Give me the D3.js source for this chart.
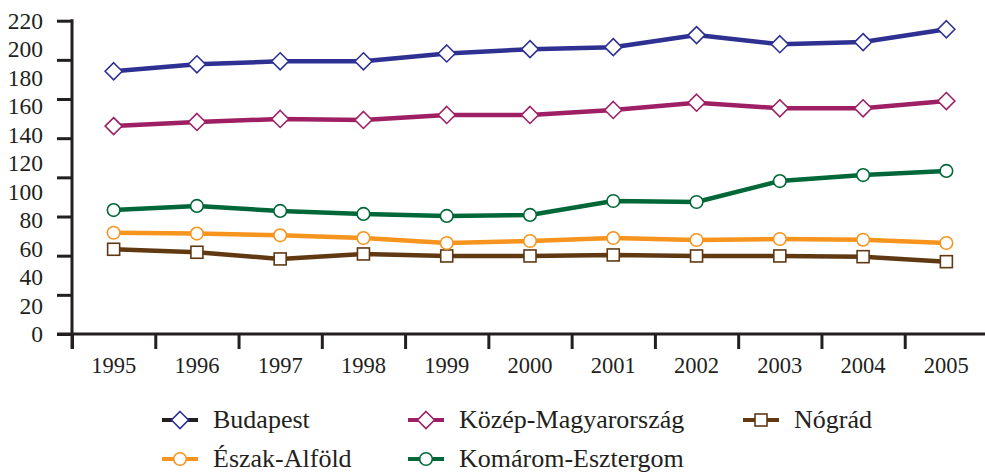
<!DOCTYPE html>
<html>
<head>
<meta charset="utf-8">
<script src="https://cdn.jsdelivr.net/npm/d3@7"></script>
<style>
  body { margin: 0; background: #fff; }
  text { font-family: "Liberation Serif", "Times New Roman", serif; fill: #231f20; }
</style>
</head>
<body>
<svg id="canvas"></svg>
<script>
const years = ["1995","1996","1997","1998","1999","2000","2001","2002","2003","2004","2005"]
const budapest = [184.5, 189.4, 191.5, 191.5, 197, 200, 201.4, 209.9, 203.5, 205, 214]
const kozep = [146, 148.9, 151, 150.3, 153.8, 153.8, 157.3, 162.4, 158.5, 158.5, 163.6]
const komarom = [87, 89.9, 86.4, 84.3, 82.9, 83.6, 93.4, 92.7, 107.4, 111.6, 114.5]
const eszak = [71.1, 70.5, 69.3, 67.4, 63.9, 65.3, 67.4, 66, 66.7, 66.2, 63.9]
const nograd = [59.5, 57.4, 52.7, 56.2, 54.8, 54.8, 55.5, 54.8, 54.8, 54.3, 50.8]
const yLabels = [0, 20, 40, 60, 80, 100, 120, 140, 160, 180, 200, 220]

const width = 985
const height = 473
const serif = '"Liberation Serif", "Times New Roman", serif'

// draw order: lower lines first
const series = [
  { name: "Nógrád", values: nograd, color: "#603913", legendLine: "#603913", marker: "square" },
  { name: "Észak-Alföld", values: eszak, color: "#f7941d", legendLine: "#f7941d", marker: "circle" },
  { name: "Komárom-Esztergom", values: komarom, color: "#006838", legendLine: "#006838", marker: "circle" },
  { name: "Közép-Magyarország", values: kozep, color: "#9e1f63", legendLine: "#9e1f63", marker: "diamond" },
  { name: "Budapest", values: budapest, color: "#2e3192", legendLine: "#231f20", marker: "diamond" }
]

let canvas = d3.select("#canvas")
  .attr("width", width)
  .attr("height", height)

let xScale = d3.scaleBand().domain(years).range([72, 988])
let xTicks = d3.scaleLinear().domain([0, 11]).range([72, 988])
let yScale = d3.scaleLinear().domain([0, 220]).range([334, 20.7])

// y axis: tick marks every 27.5, labels every 20 (as in the original)
let yTickAxis = d3.axisLeft(yScale)
  .tickValues(d3.range(0, 220.1, 27.5))
  .tickSize(15)
  .tickSizeOuter(0)
  .tickFormat("")
let gy = canvas.append("g")
  .attr("transform", "translate(72,0)")
  .call(yTickAxis)
gy.select(".domain").remove()
gy.selectAll("line").attr("stroke", "#231f20").attr("stroke-width", 3)
canvas.append("line")
  .attr("x1", 72).attr("x2", 72)
  .attr("y1", yScale(220) - 1.5).attr("y2", 349)
  .attr("stroke", "#231f20").attr("stroke-width", 3)

let yLabelAxis = d3.axisLeft(yScale)
  .tickValues(yLabels)
  .tickSize(0)
  .tickPadding(29)
let gyl = canvas.append("g")
  .attr("transform", "translate(72,0)")
  .call(yLabelAxis)
  .attr("font-family", serif)
  .attr("font-size", 23.5)
gyl.select(".domain").remove()
gyl.selectAll("text")
  .style("font-family", serif)
  .style("font-size", "23.5px")

// x axis
let xTickAxis = d3.axisBottom(xTicks)
  .tickValues(d3.range(0, 11))
  .tickSize(15)
  .tickSizeOuter(0)
  .tickFormat("")
let gx = canvas.append("g")
  .attr("transform", "translate(0,334)")
  .call(xTickAxis)
gx.select(".domain").remove()
gx.selectAll("line").attr("stroke", "#231f20").attr("stroke-width", 3)
canvas.append("line")
  .attr("x1", 57).attr("x2", width)
  .attr("y1", 334).attr("y2", 334)
  .attr("stroke", "#231f20").attr("stroke-width", 3)

let xLabelAxis = d3.axisBottom(xScale).tickSize(0).tickPadding(0)
let gxl = canvas.append("g")
  .attr("transform", "translate(0,334)")
  .call(xLabelAxis)
  .attr("font-family", serif)
  .attr("font-size", 22.5)
gxl.select(".domain").remove()
gxl.selectAll("text")
  .style("font-family", serif)
  .style("font-size", "22.5px")
  .attr("y", 39).attr("dy", 0)

// lines + markers
let line = d3.line()
  .x((d, i) => xScale(years[i]) + xScale.bandwidth() / 2)
  .y(d => yScale(d))

let drawMarker = (g, type, x, y, color) => {
  if (type === "diamond") {
    g.append("path")
      .attr("d", `M${x},${y - 8.5}L${x + 8.5},${y}L${x},${y + 8.5}L${x - 8.5},${y}Z`)
      .attr("fill", "#fff").attr("stroke", color).attr("stroke-width", 1.6)
  } else if (type === "circle") {
    g.append("circle")
      .attr("cx", x).attr("cy", y).attr("r", 6.3)
      .attr("fill", "#fff").attr("stroke", color).attr("stroke-width", 1.6)
  } else {
    g.append("rect")
      .attr("x", x - 6).attr("y", y - 6).attr("width", 12).attr("height", 12)
      .attr("fill", "#fff").attr("stroke", color).attr("stroke-width", 1.6)
  }
}

series.forEach(s => {
  canvas.append("path")
    .datum(s.values)
    .attr("d", line)
    .attr("fill", "none")
    .attr("stroke", s.color)
    .attr("stroke-width", 4.5)
    .attr("stroke-linejoin", "round")
  let g = canvas.append("g")
  s.values.forEach((v, i) => {
    drawMarker(g, s.marker, xScale(years[i]) + xScale.bandwidth() / 2, yScale(v), s.color)
  })
})

// legend
const legendPos = {
  "Budapest": [162, 420],
  "Közép-Magyarország": [408, 420],
  "Nógrád": [743, 420],
  "Észak-Alföld": [162, 459],
  "Komárom-Esztergom": [408, 459]
}
series.forEach(s => {
  let [lx, ly] = legendPos[s.name]
  let g = canvas.append("g")
  g.append("line")
    .attr("x1", lx).attr("x2", lx + 36)
    .attr("y1", ly).attr("y2", ly)
    .attr("stroke", s.legendLine).attr("stroke-width", 4)
  drawMarker(g, s.marker, lx + 18, ly, s.color)
  g.append("text")
    .attr("x", lx + 51)
    .attr("y", ly + 8)
    .style("font-family", serif)
    .style("font-size", "26px")
    .text(s.name)
})
</script>
</body>
</html>
